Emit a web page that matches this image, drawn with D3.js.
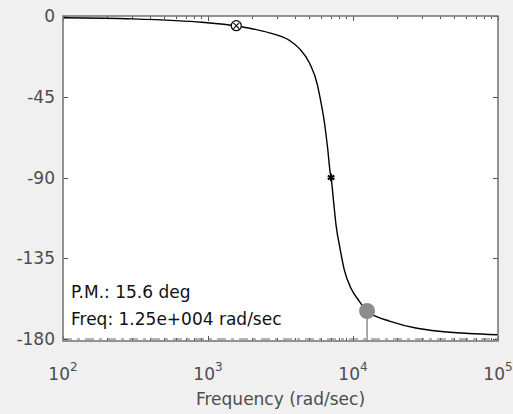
<!DOCTYPE html>
<html>
<head>
<meta charset="utf-8">
<title>Phase margin</title>
<script src="https://d3js.org/d3.v7.min.js"></script>
<style>
  body { margin: 0; background: #f0f0f0; }
  text { font-family: "DejaVu Sans", sans-serif; }
  .tlabel { fill: #4d4d4d; font-size: 17px; }
</style>
</head>
<body>
<script>
// phase response
var freq  = [100, 300, 600, 900, 1400, 1936, 2655, 3645, 4274, 5010, 5690, 5861,
             6355, 6700, 6955, 7060, 7360, 7640, 8140, 8710, 9680, 10930, 12500,
             14420, 17800, 27100, 39200, 63100, 100000];
var phase = [-1.0, -1.6, -2.6, -3.5, -5.0, -6.8, -9.4, -13.6, -18.2, -26.2, -38.5, -43.6,
             -59.5, -74.5, -87.0, -90, -104.0, -116.5, -129.6, -141.5, -151.7, -158.4, -164.4,
             -167.4, -170.0, -173.9, -175.7, -176.9, -177.6];

var yTicks = [0, -45, -90, -135, -180];
var xTicks = [1e2, 1e3, 1e4, 1e5];
var xExp = ["2", "3", "4", "5"];

var pmFreq = 12500, pmPhase = -164.4;   // filled gray marker
var cxFreq = 1567, cxPhase = -5.4;      // circled x marker
var stFreq = 7060, stPhase = -90;       // star marker
var noteLines = ["P.M.: 15.6 deg", "Freq: 1.25e+004 rad/sec"];
var xTitle = "Frequency (rad/sec)";

var width = 513, height = 414,
    pL = 63, pR = 498, pT = 16, pB = 341;

var svg = d3.select("body").append("svg")
    .attr("width", width)
    .attr("height", height);

svg.append("rect")
    .attr("width", width)
    .attr("height", height)
    .attr("fill", "#f0f0f0");

var x = d3.scaleLog().domain([1e2, 1e5]).range([pL, pR]),
    y = d3.scaleLinear().domain([0, -180]).range([pT, pB - 2]);

svg.append("rect")
    .attr("x", pL).attr("y", pT)
    .attr("width", pR - pL).attr("height", pB - pT)
    .attr("fill", "#fff");

// -180 reference line
svg.append("line")
    .attr("x1", pL).attr("x2", pR)
    .attr("y1", y(-180)).attr("y2", y(-180))
    .attr("stroke", "#9a9a9a")
    .attr("stroke-width", 1.5)
    .attr("stroke-dasharray", "9,5,3,5");

// ticks
var xt = x.ticks();
var g = svg.append("g").attr("stroke", "#555").attr("stroke-width", 1);
xt.forEach(function(v) {
  var major = Math.abs(Math.log10(v) - Math.round(Math.log10(v))) < 1e-9;
  var len = major ? 5 : 3, px = Math.round(x(v)) + 0.5;
  g.append("line").attr("x1", px).attr("x2", px).attr("y1", pT).attr("y2", pT + len);
  g.append("line").attr("x1", px).attr("x2", px).attr("y1", pB).attr("y2", pB - len);
});
yTicks.forEach(function(v) {
  var py = Math.round(y(v)) + 0.5;
  g.append("line").attr("x1", pL).attr("x2", pL + 5).attr("y1", py).attr("y2", py);
  g.append("line").attr("x1", pR).attr("x2", pR - 5).attr("y1", py).attr("y2", py);
});

// curve
var line = d3.line()
    .x(function(d, i) { return x(freq[i]); })
    .y(function(d, i) { return y(phase[i]); })
    .curve(d3.curveMonotoneX);

svg.append("path")
    .attr("d", line(freq))
    .attr("fill", "none")
    .attr("stroke", "#000")
    .attr("stroke-width", 1.4);

// phase margin stem and marker
svg.append("line")
    .attr("x1", x(pmFreq)).attr("x2", x(pmFreq))
    .attr("y1", y(pmPhase)).attr("y2", pB)
    .attr("stroke", "#8c8c8c").attr("stroke-width", 1.5);
svg.append("circle")
    .attr("cx", x(pmFreq)).attr("cy", y(pmPhase)).attr("r", 8)
    .attr("fill", "#8c8c8c");

// circled x
svg.append("circle")
    .attr("cx", x(cxFreq)).attr("cy", y(cxPhase)).attr("r", 5)
    .attr("fill", "#fff").attr("stroke", "#000").attr("stroke-width", 1.2);
svg.append("path")
    .attr("transform", "translate(" + x(cxFreq) + "," + y(cxPhase) + ") rotate(45)")
    .attr("d", "M-4,0H4M0,-4V4")
    .attr("stroke", "#000").attr("stroke-width", 1.1);

// star
svg.append("path")
    .attr("transform", "translate(" + x(stFreq) + "," + y(stPhase) + ")")
    .attr("d", d3.symbol().type(d3.symbolAsterisk).size(40)())
    .attr("fill", "none").attr("stroke", "#000").attr("stroke-width", 2.2);

// box
svg.append("rect")
    .attr("x", pL).attr("y", pT)
    .attr("width", pR - pL).attr("height", pB - pT)
    .attr("fill", "none")
    .attr("stroke", "#7a7a7a")
    .attr("stroke-width", 1.6);

// y labels
svg.selectAll(".ylab")
    .data(yTicks)
  .enter().append("text")
    .attr("class", "tlabel")
    .attr("x", 55)
    .attr("y", function(d) { return y(d); })
    .attr("dy", "0.36em")
    .attr("text-anchor", "end")
    .text(function(d) { return d; });

// x labels with exponents
var xl = svg.selectAll(".xlab")
    .data(xTicks)
  .enter().append("text")
    .attr("class", "tlabel")
    .attr("x", function(d) { return x(d); })
    .attr("y", 380)
    .attr("text-anchor", "middle");
xl.append("tspan").text("10");
xl.append("tspan")
    .attr("dy", -9)
    .attr("font-size", "12px")
    .text(function(d, i) { return xExp[i]; });

svg.append("text")
    .attr("class", "tlabel")
    .attr("x", (pL + pR) / 2)
    .attr("y", 405)
    .attr("text-anchor", "middle")
    .text(xTitle);

// annotation
svg.selectAll(".note")
    .data(noteLines)
  .enter().append("text")
    .attr("x", 71)
    .attr("y", function(d, i) { return 298 + i * 27; })
    .attr("font-size", "17px")
    .attr("fill", "#111")
    .text(function(d) { return d; });
</script>
</body>
</html>
